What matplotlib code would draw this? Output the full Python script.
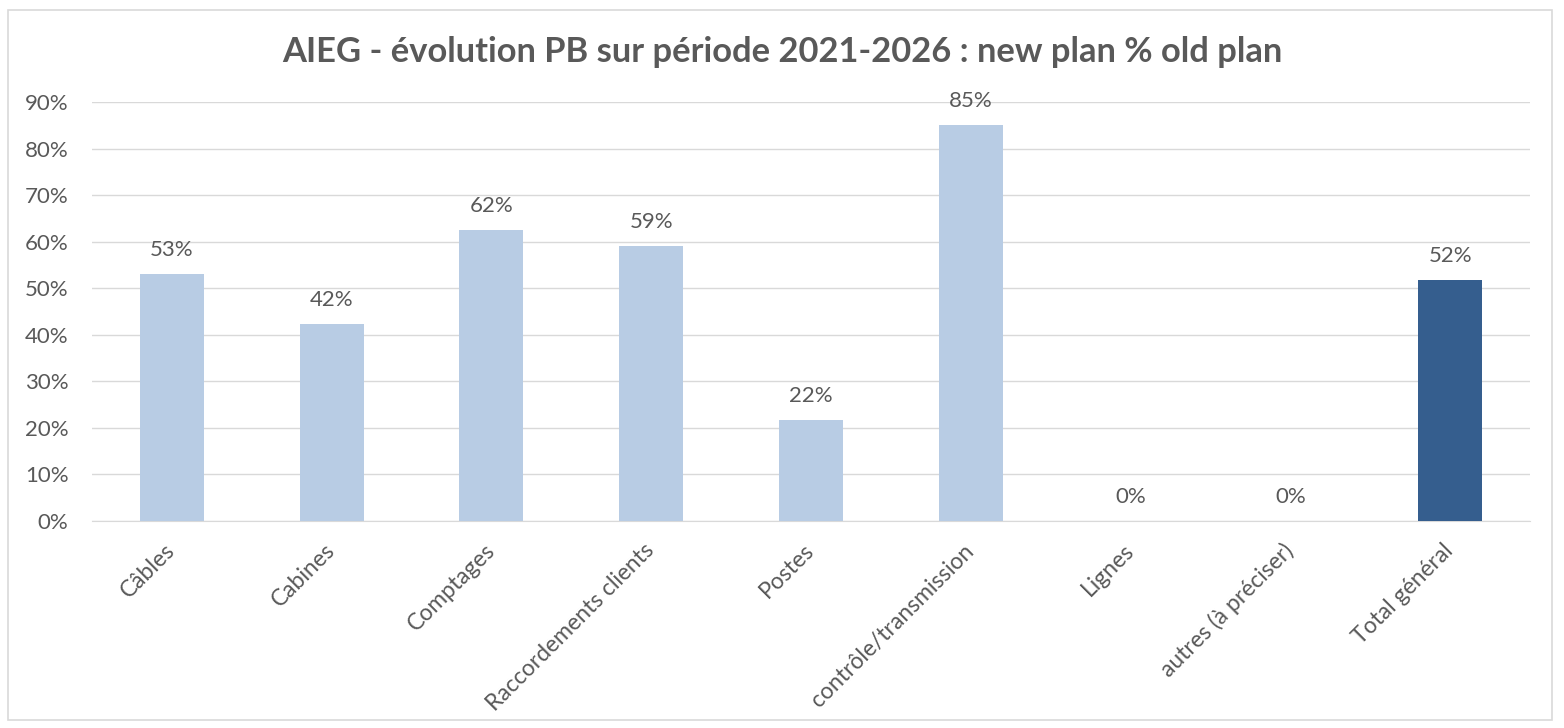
import matplotlib
matplotlib.use("Agg")
import matplotlib.pyplot as plt
from matplotlib.patches import Rectangle
from matplotlib.ticker import FuncFormatter

categories = ["Câbles", "Cabines", "Comptages", "Raccordements clients", "Postes",
              "contrôle/transmission", "Lignes", "autres (à préciser)", "Total général"]
values = [53.1, 42.3, 62.5, 59.1, 21.8, 85.0, 0.0, 0.0, 51.8]
bar_labels = ["53%", "42%", "62%", "59%", "22%", "85%", "0%", "0%", "52%"]
yticks = [0, 10, 20, 30, 40, 50, 60, 70, 80, 90]
title = "AIEG - évolution PB sur période 2021-2026 : new plan % old plan"

plt.rcParams['font.family'] = ['Lato', 'DejaVu Sans']
W, H = 1564, 728
fig = plt.figure(figsize=(W / 100, H / 100), dpi=100)
fig.patch.set_facecolor("white")

# outer chart border
fig.add_artist(Rectangle((8 / W, 1 - 720 / H), (1552 - 8) / W, (720 - 10) / H,
                         transform=fig.transFigure, fill=False, edgecolor="#D9D9D9", lw=1.2))

ax = fig.add_axes([92 / W, 1 - 521 / H, (1530 - 92) / W, (521 - 102) / H])
text_color = "#595959"
colors = ["#B8CCE4"] * (len(categories) - 1) + ["#355E8E"]
x = list(range(len(categories)))
ax.bar(x, values, width=0.4, color=colors, zorder=3)
ax.set_xlim(-0.5, len(categories) - 0.5)
ax.set_ylim(0, 90)
ax.set_yticks(yticks)
ax.yaxis.set_major_formatter(FuncFormatter(lambda v, p: f"{int(v)}%"))
ax.grid(axis="y", color="#D9D9D9", lw=1, zorder=0)
for s in ["top", "right", "left"]:
    ax.spines[s].set_visible(False)
ax.spines["bottom"].set_color("#D9D9D9")
ax.tick_params(axis="both", length=0, colors=text_color)
ax.tick_params(axis="y", pad=17, labelsize=16)
ax.set_xticks(x)
ax.set_xticklabels(categories, rotation=45, ha="right", va="center", rotation_mode="anchor",
                   color=text_color, fontsize=16.5)
ax.tick_params(axis="x", pad=19)

for xi, v, lab in zip(x, values, bar_labels):
    ax.annotate(lab, (xi, v), xytext=(0, 10), textcoords="offset points",
                ha="center", va="bottom", fontsize=16, color=text_color)

fig.text(0.5, 1 - 52 / H, title, ha="center", va="center", fontsize=24.8,
         fontweight="bold", color=text_color)

fig.savefig("out.png", dpi=100)
